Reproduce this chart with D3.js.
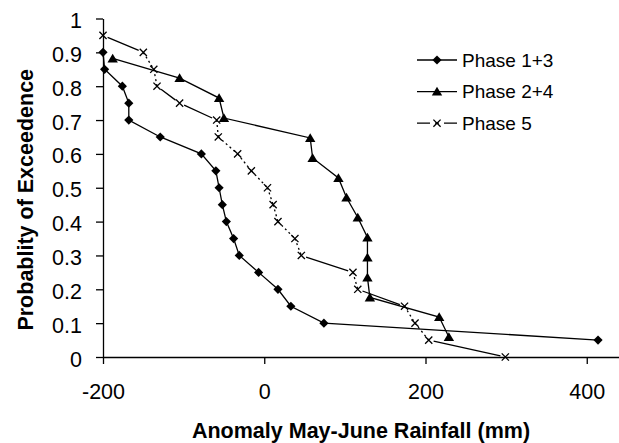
<!DOCTYPE html>
<html>
<head>
<meta charset="utf-8">
<script src="https://cdn.jsdelivr.net/npm/d3@7"></script>
<style>
  body { margin: 0; background: #fff; }
  svg { display: block; font-family: Arial, "Liberation Sans", sans-serif; }
</style>
</head>
<body>
<div id="chart"></div>
<script>
// values
const phase13Rain = [-200, -198, -176, -168, -168, -129, -78, -60, -56, -52, -47, -38, -31, -7, 17, 33, 74, 414];
const phase13Prob = [0.90, 0.85, 0.80, 0.75, 0.70, 0.65, 0.60, 0.55, 0.50, 0.45, 0.40, 0.35, 0.30, 0.25, 0.20, 0.15, 0.10, 0.05];

const phase24Rain = [-188, -105, -56, -50, 57, 60, 92, 102, 116, 128, 128, 128, 131, 217, 229];
const phase24Prob = [0.882, 0.824, 0.765, 0.706, 0.647, 0.588, 0.529, 0.471, 0.412, 0.353, 0.294, 0.235, 0.176, 0.118, 0.059];

const phase5Rain = [-200, -150, -137, -133, -105, -59, -57, -33, -16, 4, 11, 17, 38, 46, 110, 116, 174, 187, 204, 299];
const phase5Prob = [0.95, 0.90, 0.85, 0.80, 0.75, 0.70, 0.65, 0.60, 0.55, 0.50, 0.45, 0.40, 0.35, 0.30, 0.25, 0.20, 0.15, 0.10, 0.05, 0.00];

const seriesNames = ["Phase 1+3", "Phase 2+4", "Phase 5"];
const xTicks = [-200, 0, 200, 400];
const yTicks = [0, 0.1, 0.2, 0.3, 0.4, 0.5, 0.6, 0.7, 0.8, 0.9, 1];

const width = 619, height = 443;
const margin = { top: 18.5, right: 0, bottom: 86, left: 103 };

const svg = d3.select("#chart").append("svg")
    .attr("width", width)
    .attr("height", height);

const x = d3.scaleLinear().domain([-200, 440]).range([margin.left, width - margin.right]);
const y = d3.scaleLinear().domain([0, 1]).range([height - margin.bottom, margin.top]);

// axes
const xAxis = svg.append("g")
    .attr("transform", `translate(0,${y(0)})`)
    .call(d3.axisBottom(x).tickValues(xTicks).tickFormat(d => String(d)).tickSize(7).tickPadding(20).tickSizeOuter(0));

const yAxis = svg.append("g")
    .attr("transform", `translate(${x(-200)},0)`)
    .call(d3.axisLeft(y).tickValues(yTicks).tickFormat(d => String(d)).tickSize(7).tickPadding(14).tickSizeOuter(0));

[xAxis, yAxis].forEach(g => {
    g.select(".domain").attr("stroke", "#000").attr("stroke-width", 1.3);
    g.selectAll(".tick line").attr("stroke", "#000").attr("stroke-width", 1.3);
    g.selectAll(".tick text")
        .attr("fill", "#000")
        .style("font-size", "21.5px")
        .style("font-family", "Arial, 'Liberation Sans', sans-serif");
});
yAxis.selectAll(".tick text").attr("dy", "0.42em");

// axis titles
svg.append("text")
    .attr("x", (x.range()[0] + x.range()[1]) / 2)
    .attr("y", 437.5)
    .attr("text-anchor", "middle")
    .style("font-size", "21.5px")
    .style("font-weight", "bold")
    .text("Anomaly May-June Rainfall (mm)");

svg.append("text")
    .attr("transform", `translate(33,${(y(0) + y(1)) / 2 + 12}) rotate(-90)`)
    .attr("text-anchor", "middle")
    .style("font-size", "21.5px")
    .style("font-weight", "bold")
    .text("Probablity of Exceedence");

// marker shapes
const diamond = "M0,-4.6L4.6,0L0,4.6L-4.6,0Z";
const triangle = "M0,-4.8L5.2,4L-5.2,4Z";
const cross = "M-3.6,-3.6L3.6,3.6M-3.6,3.6L3.6,-3.6";

const line = d3.line().x(d => x(d[0])).y(d => y(d[1]));

function zipPoints(rain, prob) {
    return rain.map((r, i) => [r, prob[i]]);
}

const p13 = zipPoints(phase13Rain, phase13Prob);
const p24 = zipPoints(phase24Rain, phase24Prob);
const p5 = zipPoints(phase5Rain, phase5Prob);

// Phase 1+3
svg.append("path").datum(p13)
    .attr("d", line).attr("fill", "none").attr("stroke", "#000").attr("stroke-width", 1.3);
svg.selectAll(".m13").data(p13).join("path")
    .attr("class", "m13")
    .attr("transform", d => `translate(${x(d[0])},${y(d[1])})`)
    .attr("d", diamond).attr("fill", "#000");

// Phase 2+4
svg.append("path").datum(p24)
    .attr("d", line).attr("fill", "none").attr("stroke", "#000").attr("stroke-width", 1.3);
svg.selectAll(".m24").data(p24).join("path")
    .attr("class", "m24")
    .attr("transform", d => `translate(${x(d[0])},${y(d[1])})`)
    .attr("d", triangle).attr("fill", "#000");

// Phase 5: dash-dot line, long segments come out as dashes, short ones as dots
svg.selectAll(".s5").data(d3.pairs(p5)).join("line")
    .attr("class", "s5")
    .attr("x1", d => x(d[0][0])).attr("y1", d => y(d[0][1]))
    .attr("x2", d => x(d[1][0])).attr("y2", d => y(d[1][1]))
    .attr("stroke", "#000").attr("stroke-width", 1.3)
    .attr("stroke-dasharray", d => {
        const len = Math.hypot(x(d[1][0]) - x(d[0][0]), y(d[1][1]) - y(d[0][1]));
        return len > 26 ? `0,5,${len - 10},5` : "2,3";
    });
svg.selectAll(".m5").data(p5).join("path")
    .attr("class", "m5")
    .attr("transform", d => `translate(${x(d[0])},${y(d[1])})`)
    .attr("d", cross).attr("fill", "none").attr("stroke", "#000").attr("stroke-width", 1.3);

// legend
const legendShapes = [diamond, triangle, cross];
const legend = svg.append("g");
seriesNames.forEach((name, i) => {
    const ly = 60 + i * 31.6;
    legend.append("line")
        .attr("x1", 417).attr("x2", 457).attr("y1", ly).attr("y2", ly)
        .attr("stroke", "#000").attr("stroke-width", 1.3)
        .attr("stroke-dasharray", i === 2 ? "13,5,4,5,13" : null);
    legend.append("path")
        .attr("transform", `translate(437,${ly})`)
        .attr("d", legendShapes[i])
        .attr("fill", i === 2 ? "none" : "#000")
        .attr("stroke", i === 2 ? "#000" : "none")
        .attr("stroke-width", 1.3);
    legend.append("text")
        .attr("x", 462).attr("y", ly + 6.8)
        .style("font-size", "19px")
        .text(name);
});
</script>
</body>
</html>
